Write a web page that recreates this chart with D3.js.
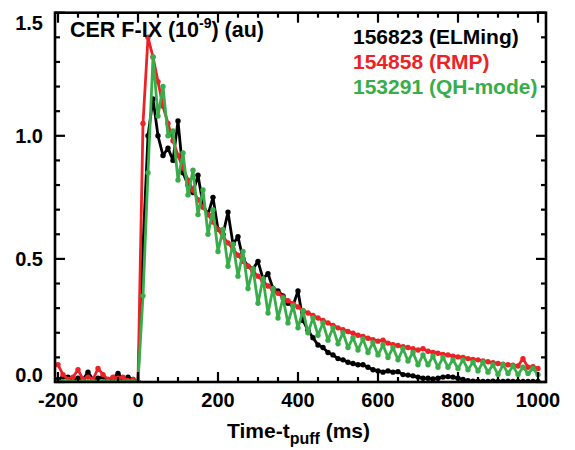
<!DOCTYPE html>
<meta charset="utf-8">
<style>
body { margin: 0; background: #fff; }
svg { font-family: "Liberation Sans", Arial, Helvetica, sans-serif; font-weight: 700; }
.tick-label { font-size: 20px; }
</style>
<svg id="chart"></svg>
<script src="https://d3js.org/d3.v7.min.js"></script>
<script>

// sample times (ms after puff)
const times = [-200,-187.5,-175,-162.5,-150,-137.5,-125,-112.5,-100,-87.5,-75,-62.5,-50,-37.5,-25,-12.5,
  0,12.5,25,37.5,50,62.5,75,87.5,100,112.5,125,137.5,150,162.5,175,187.5,
  200,212.5,225,237.5,250,262.5,275,287.5,300,312.5,325,337.5,350,362.5,375,387.5,
  400,412.5,425,437.5,450,462.5,475,487.5,500,512.5,525,537.5,550,562.5,575,587.5,
  600,612.5,625,637.5,650,662.5,675,687.5,700,712.5,725,737.5,750,762.5,775,787.5,
  800,812.5,825,837.5,850,862.5,875,887.5,900,912.5,925,937.5,950,962.5,975,987.5,1000];

// 156823 (ELMing)
const elming = [0.01,0.02,0.02,0.01,0.015,0.01,0.04,0.01,0.015,0.02,0.01,0.015,0.035,0.01,0.02,0.01,
  0.0,0.55,1.0,1.15,1.0,0.92,0.95,0.9,1.06,0.85,0.8,0.77,0.84,0.72,0.68,0.75,
  0.62,0.6,0.69,0.56,0.59,0.5,0.47,0.46,0.49,0.42,0.44,0.38,0.37,0.35,0.32,0.31,
  0.37,0.25,0.21,0.18,0.15,0.14,0.12,0.11,0.095,0.09,0.08,0.075,0.07,0.07,0.06,0.05,
  0.045,0.04,0.045,0.04,0.042,0.03,0.028,0.025,0.02,0.015,0.015,0.012,0.015,0.02,0.022,0.02,
  0.015,0.01,0.005,0.003,0.003,0.002,0.002,0.003,0.002,0.002,0.003,0.002,0.002,0.002,0.002,0.002,0.002];

// 154858 (RMP)
const rmp = [0.07,0.03,0.01,0.02,0.05,0.01,0.02,0.01,0.055,0.03,0.01,0.02,0.015,0.02,0.005,0.01,
  0.0,1.05,1.40,1.32,1.22,1.12,1.05,0.98,0.92,0.87,0.82,0.78,0.74,0.71,0.68,0.65,
  0.62,0.59,0.565,0.54,0.515,0.49,0.47,0.45,0.43,0.41,0.39,0.375,0.36,0.345,0.33,0.318,
  0.305,0.29,0.28,0.27,0.26,0.25,0.24,0.23,0.22,0.212,0.205,0.198,0.19,0.185,0.178,0.172,
  0.166,0.17,0.158,0.152,0.148,0.143,0.14,0.135,0.13,0.135,0.125,0.12,0.117,0.112,0.11,0.105,
  0.102,0.1,0.095,0.092,0.09,0.085,0.082,0.078,0.075,0.072,0.07,0.068,0.065,0.095,0.06,0.062,0.055];

// 153291 (QH-mode)
const qhmode = [0,0,0,0,0,0,0,0,0,0,0,0,0,0,0,0,
  0.0,0.35,0.85,1.32,1.08,1.2,1.0,1.02,0.82,0.93,0.76,0.86,0.68,0.78,0.6,0.70,
  0.53,0.62,0.47,0.56,0.43,0.53,0.38,0.46,0.32,0.42,0.28,0.38,0.26,0.34,0.24,0.31,
  0.22,0.29,0.20,0.26,0.19,0.24,0.17,0.22,0.155,0.20,0.14,0.18,0.13,0.175,0.12,0.16,
  0.11,0.15,0.10,0.14,0.09,0.135,0.085,0.12,0.07,0.11,0.07,0.105,0.06,0.10,0.06,0.09,
  0.055,0.09,0.05,0.08,0.045,0.08,0.04,0.07,0.03,0.07,0.035,0.065,0.03,0.06,0.035,0.055,0.03];

const seriesNames = ["156823 (ELMing)", "154858 (RMP)", "153291 (QH-mode)"];
const seriesColors = ["#000000", "#ec2227", "#38ad49"];
const seriesValues = [elming, rmp, qhmode];

const xTicks = [-200, 0, 200, 400, 600, 800, 1000];
const yTicks = [0.0, 0.5, 1.0, 1.5];

const W = 575, H = 450;
const pLeft = 55, pRight = 546, pTop = 12.7, pBottom = 382;

let svg = d3.select("#chart").attr("width", W).attr("height", H);

let x = d3.scaleLinear().domain([-207.5, 1020]).range([pLeft, pRight]);
let y = d3.scaleLinear().domain([0, 1.5]).range([pBottom, pTop]);

svg.append("defs").append("clipPath").attr("id", "plot-clip")
  .append("rect").attr("x", pLeft).attr("y", pTop)
  .attr("width", pRight - pLeft).attr("height", pBottom - pTop);

// data
let plot = svg.append("g").attr("clip-path", "url(#plot-clip)");

let line = d3.line()
  .x((d, i) => x(times[i]))
  .y(d => y(d));

seriesValues.forEach((vals, k) => {
  let g = plot.append("g");
  g.append("path")
    .attr("d", line(vals))
    .attr("fill", "none")
    .attr("stroke", seriesColors[k])
    .attr("stroke-width", 2.8)
    .attr("stroke-linejoin", "round");
  g.selectAll("circle")
    .data(vals)
    .enter().append("circle")
    .attr("cx", (d, i) => x(times[i]))
    .attr("cy", d => y(d))
    .attr("r", 2.7)
    .attr("fill", seriesColors[k]);
});

// axes box with inward ticks
const xMinor = d3.range(-200, 1001, 50);
const yMinor = d3.range(0, 1.51, 0.1);

let axes = svg.append("g").attr("stroke", "#000").attr("stroke-width", 2.2);

axes.append("rect")
  .attr("x", pLeft).attr("y", pTop)
  .attr("width", pRight - pLeft).attr("height", pBottom - pTop)
  .attr("fill", "none").attr("stroke-width", 2.6);

xMinor.forEach(v => {
  let len = v % 200 === 0 ? 10 : 5;
  axes.append("line").attr("x1", x(v)).attr("x2", x(v)).attr("y1", pBottom).attr("y2", pBottom - len);
  axes.append("line").attr("x1", x(v)).attr("x2", x(v)).attr("y1", pTop).attr("y2", pTop + len);
});

yMinor.forEach(v => {
  let major = Math.abs(v * 2 - Math.round(v * 2)) < 1e-6;
  let len = major ? 10 : 5;
  if (y(v) < pTop - 0.5) return;
  axes.append("line").attr("x1", pLeft).attr("x2", pLeft + len).attr("y1", y(v)).attr("y2", y(v));
  axes.append("line").attr("x1", pRight).attr("x2", pRight - len).attr("y1", y(v)).attr("y2", y(v));
});

// tick labels
svg.selectAll(".xl")
  .data(xTicks)
  .enter().append("text")
  .attr("class", "tick-label")
  .attr("x", d => x(d))
  .attr("y", 407)
  .attr("text-anchor", "middle")
  .text(d => d);

svg.selectAll(".yl")
  .data(yTicks)
  .enter().append("text")
  .attr("class", "tick-label")
  .attr("x", 43)
  .attr("y", d => Math.min(Math.max(y(d), pTop + 10), pBottom - 7))
  .attr("dy", "0.36em")
  .attr("text-anchor", "end")
  .text(d => d3.format(".1f")(d));

// title inside the frame
let title = svg.append("text").attr("x", 70).attr("y", 37).attr("font-size", 21.5);
title.append("tspan").text("CER F-IX (10");
title.append("tspan").attr("font-size", 14).attr("dy", -9).text("-9");
title.append("tspan").attr("dy", 9).text(") (au)");

// legend
seriesNames.forEach((name, k) => {
  svg.append("text")
    .attr("x", 353)
    .attr("y", 44 + k * 25)
    .attr("font-size", 21)
    .attr("fill", seriesColors[k])
    .text(name);
});

// x axis title
let xt = svg.append("text").attr("x", 227).attr("y", 438).attr("font-size", 21);
xt.append("tspan").text("Time-t");
xt.append("tspan").attr("font-size", 16).attr("dy", 6).text("puff");
xt.append("tspan").attr("dy", -6).text("  (ms)");

</script>
